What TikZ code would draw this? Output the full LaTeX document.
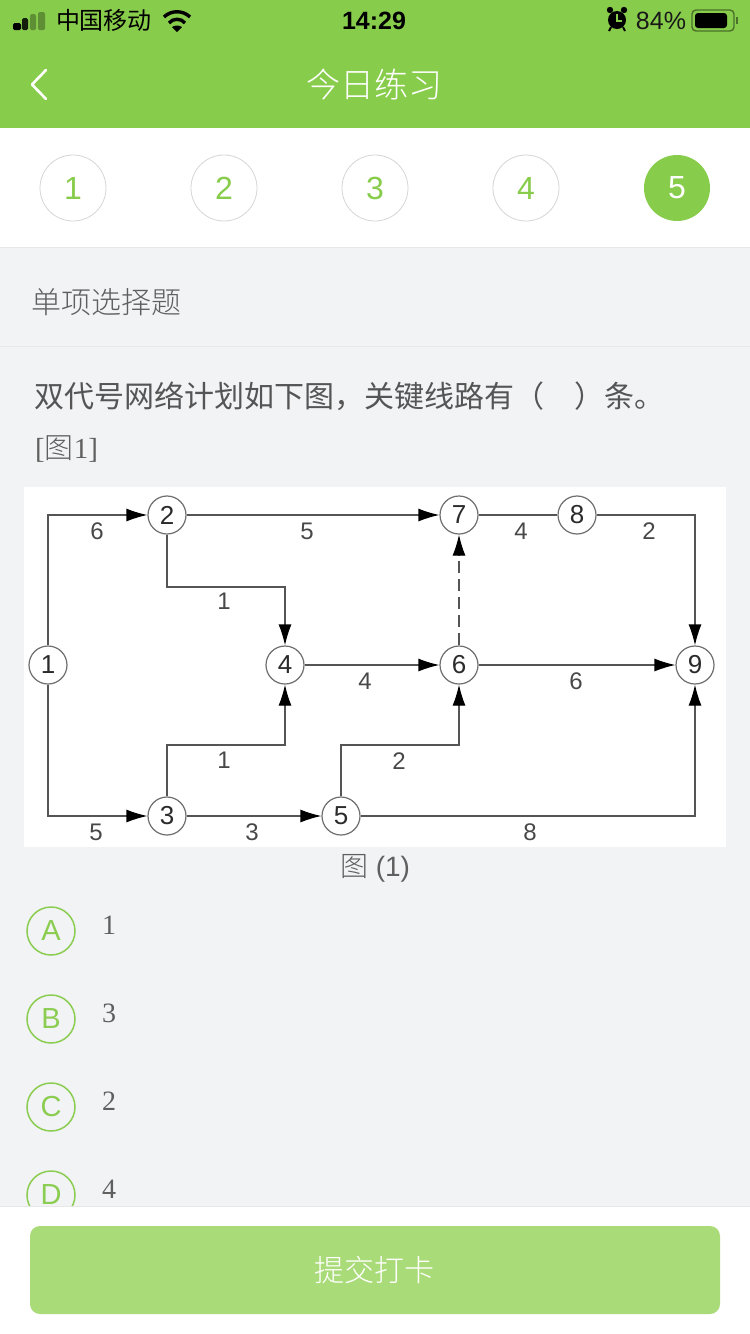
\documentclass[tikz,border=0pt]{standalone}
\usepackage{fontspec}
\setmainfont{Liberation Sans}
\newfontfamily\cjk{Noto Sans CJK SC}
\newfontfamily\cjklight{Noto Sans CJK SC Light}
\newfontfamily\serifnum{Liberation Serif}
\newcommand{\fs}[1]{\fontsize{#1}{#1}\selectfont}
\usetikzlibrary{arrows.meta}
\definecolor{hdr}{HTML}{88CC4C}
\definecolor{bgc}{HTML}{F2F3F5}
\definecolor{btn}{HTML}{A9DB78}
\definecolor{ring}{HTML}{D6D6D6}
\definecolor{lnc}{HTML}{E6E7E9}
\definecolor{txt}{HTML}{5F5F5F}
\definecolor{net}{HTML}{555555}
\definecolor{greenring}{HTML}{8ACD50}
\tikzset{
  x=1pt,y=-1pt,
  step num/.style={circle,draw=ring,line width=0.8pt,fill=white,minimum size=66pt,inner sep=0pt,text=hdr,font=\fs{32}},
  step cur/.style={circle,fill=hdr,minimum size=66pt,inner sep=0pt,text=white,font=\fs{32}},
  opt circ/.style={circle,draw=greenring,line width=1.5pt,minimum size=48pt,inner sep=0pt,text=greenring,font=\fs{29}},
  opt val/.style={text=txt,font=\serifnum\fs{28},inner sep=0pt},
  ev/.style={circle,draw=net!85,line width=1.2pt,fill=white,minimum size=38pt,inner sep=0pt,text=net!50!black,font=\fs{26}},
  wlab/.style={text=net!85!black,font=\fs{24},inner sep=0pt},
  act/.style={draw=net,line width=1.2pt},
  tip/.style={-{Latex[length=21pt,width=13pt,black]}},
  arr/.style={act,tip},
  btxt/.style={inner sep=0pt,text=black,anchor=center},
}
\begin{document}
\begin{tikzpicture}
\useasboundingbox (0,0) rectangle (750,1334);
\fill[bgc] (0,0) rectangle (750,1334);
% header
\fill[hdr] (0,0) rectangle (750,128);
\fill[black,rounded corners=1.5pt] (13,23) rectangle (21,30);
\fill[black!85!hdr,rounded corners=1.5pt] (22,18) rectangle (28,30);
\fill[black!30!hdr,rounded corners=1.5pt] (30,14) rectangle (36,30);
\fill[black!30!hdr,rounded corners=1.5pt] (38,12) rectangle (45,30);
\node[btxt,font=\cjk\fs{24}] (carrier) at (104,20) {中国移动};
\begin{scope}[black,line width=3.4pt]
\draw (164,17) .. controls (171,10) and (183,10) .. (190,17);
\draw (169,23) .. controls (173,18) and (181,18) .. (185,23);
\fill (177,32) -- (172,27) .. controls (175,25) and (179,25) .. (182,27) -- cycle;
\end{scope}
\node[btxt,font=\bfseries\fs{25}] (clock) at (374,20.5) {14:29};
\fill[black] (617,20) circle (9);
\fill[black] (610,10) circle (3.2) (624,10) circle (3.2);
\draw[black,line width=2pt] (611,27) -- (609,31) (623,27) -- (625,31);
\draw[hdr,line width=1.2pt] (617,14) -- (617,21) -- (622,21);
\node[btxt,font=\fs{25},text=black!90] (batt) at (661,21) {84\%};
\draw[black!45!hdr,line width=1.4pt,rounded corners=4pt] (692,10) rectangle (734,31);
\fill[black,rounded corners=3pt] (695,13) rectangle (727,28);
\fill[black!45!hdr] (736,17) rectangle (738,24);
\draw[white,line width=2.6pt,line cap=round,line join=round] (46,70) -- (32,84.5) -- (46,99);
\node[btxt,text=white,font=\cjklight\fs{34}] (title) at (374,85) {今日练习};
% steps
\fill[white] (0,128) rectangle (750,247);
\draw[lnc,line width=1pt] (0,247.5) -- (750,247.5);
\node[step num] (s1) at (73,188) {1};
\node[step num] (s2) at (224,188) {2};
\node[step num] (s3) at (375,188) {3};
\node[step num] (s4) at (526,188) {4};
\node[step cur] (s5) at (677,188) {5};
% section
\node[btxt,text=txt,font=\cjklight\fs{30}] (sec) at (106.5,302) {单项选择题};
\draw[lnc,line width=1pt] (0,346.5) -- (750,346.5);
\node[btxt,anchor=west,text=txt!90!black,font=\cjk\fs{30}] (q) at (34,396) {双代号网络计划如下图，关键线路有（\hspace{30pt}）条。};
\node[btxt,anchor=west,text=txt,font=\serifnum\fs{29}] (ref) at (35,449) {[{\cjklight 图}1]};
% figure
\fill[white] (24,487) rectangle (726,847);
\node[ev] (n1) at (48,665) {1};
\node[ev] (n2) at (167,515) {2};
\node[ev] (n3) at (167,816) {3};
\node[ev] (n4) at (285,665) {4};
\node[ev] (n5) at (341,816) {5};
\node[ev] (n6) at (459,665) {6};
\node[ev] (n7) at (459,515) {7};
\node[ev] (n8) at (577,515) {8};
\node[ev] (n9) at (695,665) {9};
\draw[arr] (n1.north) |- (n2.west);
\draw[arr] (n1.south) |- (n3.west);
\draw[arr] (n2.east) -- (n7.west);
\draw[act] (n7.east) -- (n8.west);
\draw[arr] (n8.east) -| (n9.north);
\draw[arr] (n2.south) |- (285,587) -- (n4.north);
\draw[arr] (n3.north) |- (285,745) -- (n4.south);
\draw[arr] (n4.east) -- (n6.west);
\draw[arr] (n6.east) -- (n9.west);
\draw[arr] (n3.east) -- (n5.west);
\draw[arr] (n5.north) |- (459,745) -- (n6.south);
\draw[arr] (n5.east) -| (n9.south);
\draw[act,dash pattern=on 12pt off 6pt,tip] (n6.north) -- (n7.south);
\node[wlab] (w12) at (97,531) {6};
\node[wlab] (w13) at (96,832) {5};
\node[wlab] (w27) at (307,531) {5};
\node[wlab] (w24) at (224,601) {1};
\node[wlab] (w34) at (224,760) {1};
\node[wlab] (w35) at (252,832) {3};
\node[wlab] (w46) at (365,681) {4};
\node[wlab] (w56) at (399,761) {2};
\node[wlab] (w59) at (530,832) {8};
\node[wlab] (w69) at (576,681) {6};
\node[wlab] (w78) at (521,531) {4};
\node[wlab] (w89) at (649,531) {2};
\node[btxt,text=txt,font=\fs{28}] (cap) at (375,868) {{\cjklight 图} (1)};
% options
\node[opt circ] (a) at (51,931) {A};
\node[opt val] (va) at (109,925) {1};
\node[opt circ] (b) at (51,1019) {B};
\node[opt val] (vb) at (109,1013) {3};
\node[opt circ] (c) at (51,1107) {C};
\node[opt val] (vc) at (109,1101) {2};
\node[opt circ] (d) at (51,1195) {D};
\node[opt val] (vd) at (109,1189) {4};
% bottom bar
\fill[white] (0,1206) rectangle (750,1334);
\draw[lnc,line width=1pt] (0,1206.5) -- (750,1206.5);
\fill[btn,rounded corners=10pt] (30,1226) rectangle (720,1314);
\node[btxt,text=white,font=\cjklight\fs{30}] (sub) at (374,1270) {提交打卡};
\end{tikzpicture}
\end{document}
